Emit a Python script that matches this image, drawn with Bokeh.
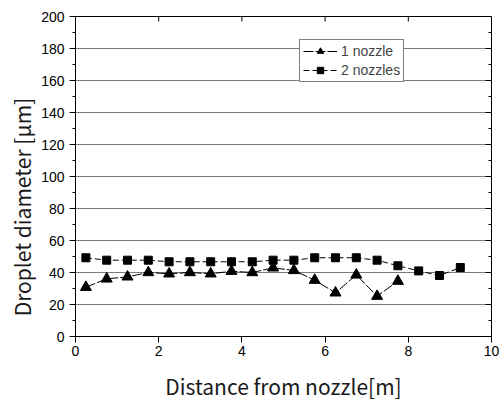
import math
from bokeh.plotting import figure
from bokeh.models import SingleIntervalTicker, Range1d, Legend, LegendItem, ColumnDataSource
from bokeh.embed import file_html
from bokeh.resources import INLINE

# Data
distance = [0.25, 0.75, 1.25, 1.75, 2.25, 2.75, 3.25, 3.75, 4.25, 4.75,
            5.25, 5.75, 6.25, 6.75, 7.25, 7.75, 8.25, 8.75, 9.25]
one_nozzle = [30.8, 36.0, 37.3, 40.0, 39.2, 40.0, 39.2, 40.8, 40.0, 42.9,
              41.3, 35.2, 27.3, 38.5, 25.2, 34.6]
two_nozzles = [49.2, 47.7, 47.7, 47.7, 46.7, 46.7, 46.7, 46.7, 46.7, 47.7,
               47.7, 49.2, 49.2, 49.2, 47.7, 44.2, 41.0, 38.1, 43.1]

x_ticks = [0, 2, 4, 6, 8, 10]
y_ticks = [0, 20, 40, 60, 80, 100, 120, 140, 160, 180, 200]
y_minor = [10, 30, 50, 70, 90, 110, 130, 150, 170, 190]

x_label = "Distance from nozzle[m]"
y_label = "Droplet diameter [\u03bcm]"
legend_labels = ["1 nozzle", "2 nozzles"]

src1 = ColumnDataSource(dict(x=distance[:len(one_nozzle)], y=one_nozzle))
src2 = ColumnDataSource(dict(x=distance, y=two_nozzles))

X0, X1 = x_ticks[0], x_ticks[-1]
Y0, Y1 = y_ticks[0], y_ticks[-1]

p = figure(width=500, height=403, output_backend="svg", toolbar_location=None,
           x_range=Range1d(X0, X1), y_range=Range1d(Y0, Y1),
           min_border_left=75, min_border_right=9, min_border_top=16, min_border_bottom=66,
           x_axis_label=x_label,
           y_axis_label=y_label + "\u00a0" * 13)
p.background_fill_color = "white"
p.border_fill_color = "white"
p.outline_line_color = "black"
p.outline_line_width = 1

xt = SingleIntervalTicker(interval=2, num_minor_ticks=0)
yt = SingleIntervalTicker(interval=20, num_minor_ticks=2)
p.xaxis.ticker = xt
p.yaxis.ticker = yt
p.xgrid.visible = False
p.ygrid.ticker = yt
p.ygrid.grid_line_color = "#7a7a7a"
p.ygrid.grid_line_width = 1

tick_font = "Liberation Sans"
for ax in (p.xaxis[0], p.yaxis[0]):
    ax.axis_line_color = "black"
    ax.major_tick_line_color = "black"
    ax.minor_tick_line_color = "black"
    ax.major_tick_in = 0
    ax.major_tick_out = 6
    ax.minor_tick_in = 0
    ax.minor_tick_out = 3
    ax.major_label_text_font = tick_font
    ax.major_label_text_font_size = "14px"
    ax.major_label_text_color = "black"
    ax.axis_label_text_font = "Noto Sans CJK KR"
    ax.axis_label_text_font_style = "normal"
    ax.axis_label_text_color = "#1a1a1a"
    ax.axis_label_text_font_size = "21px"
p.yaxis[0].major_label_standoff = 5
p.yaxis[0].axis_label_standoff = 1
p.xaxis[0].major_label_standoff = 3
p.xaxis[0].axis_label_standoff = 12

# inward ticks on the top and right edges (half of each dash is clipped by the frame)
top_src = ColumnDataSource(dict(x=x_ticks[1:-1], y=[Y1] * (len(x_ticks) - 2)))
p.scatter("x", "y", source=top_src, marker="dash", size=10, angle=math.pi / 2,
          line_color="black", line_width=1)
right_major = ColumnDataSource(dict(x=[X1] * len(y_ticks), y=y_ticks))
p.scatter("x", "y", source=right_major, marker="dash", size=12,
          line_color="black", line_width=1)
right_minor = ColumnDataSource(dict(x=[X1] * len(y_minor), y=y_minor))
p.scatter("x", "y", source=right_minor, marker="dash", size=6,
          line_color="black", line_width=1)

l1 = p.line("x", "y", source=src1, line_color="black", line_width=1, line_dash="10 2")
m1 = p.scatter("x", "y", source=src1, marker="triangle", size=11,
               fill_color="black", line_color="black")
l2 = p.line("x", "y", source=src2, line_color="black", line_width=1, line_dash="6 3")
m2 = p.scatter("x", "y", source=src2, marker="square", size=8,
               fill_color="black", line_color="black")

legend = Legend(items=[LegendItem(label=legend_labels[0], renderers=[l1, m1]),
                       LegendItem(label=legend_labels[1], renderers=[l2, m2])],
                location=(224, 254), border_line_color="black", border_line_width=1,
                background_fill_color="white", background_fill_alpha=1,
                label_text_font=tick_font, label_text_font_size="14px",
                label_height=16, label_standoff=4, glyph_width=34, glyph_height=16,
                spacing=3, padding=3, margin=0)
p.add_layout(legend, "center")

open("out.html", "w").write(file_html(p, INLINE))
